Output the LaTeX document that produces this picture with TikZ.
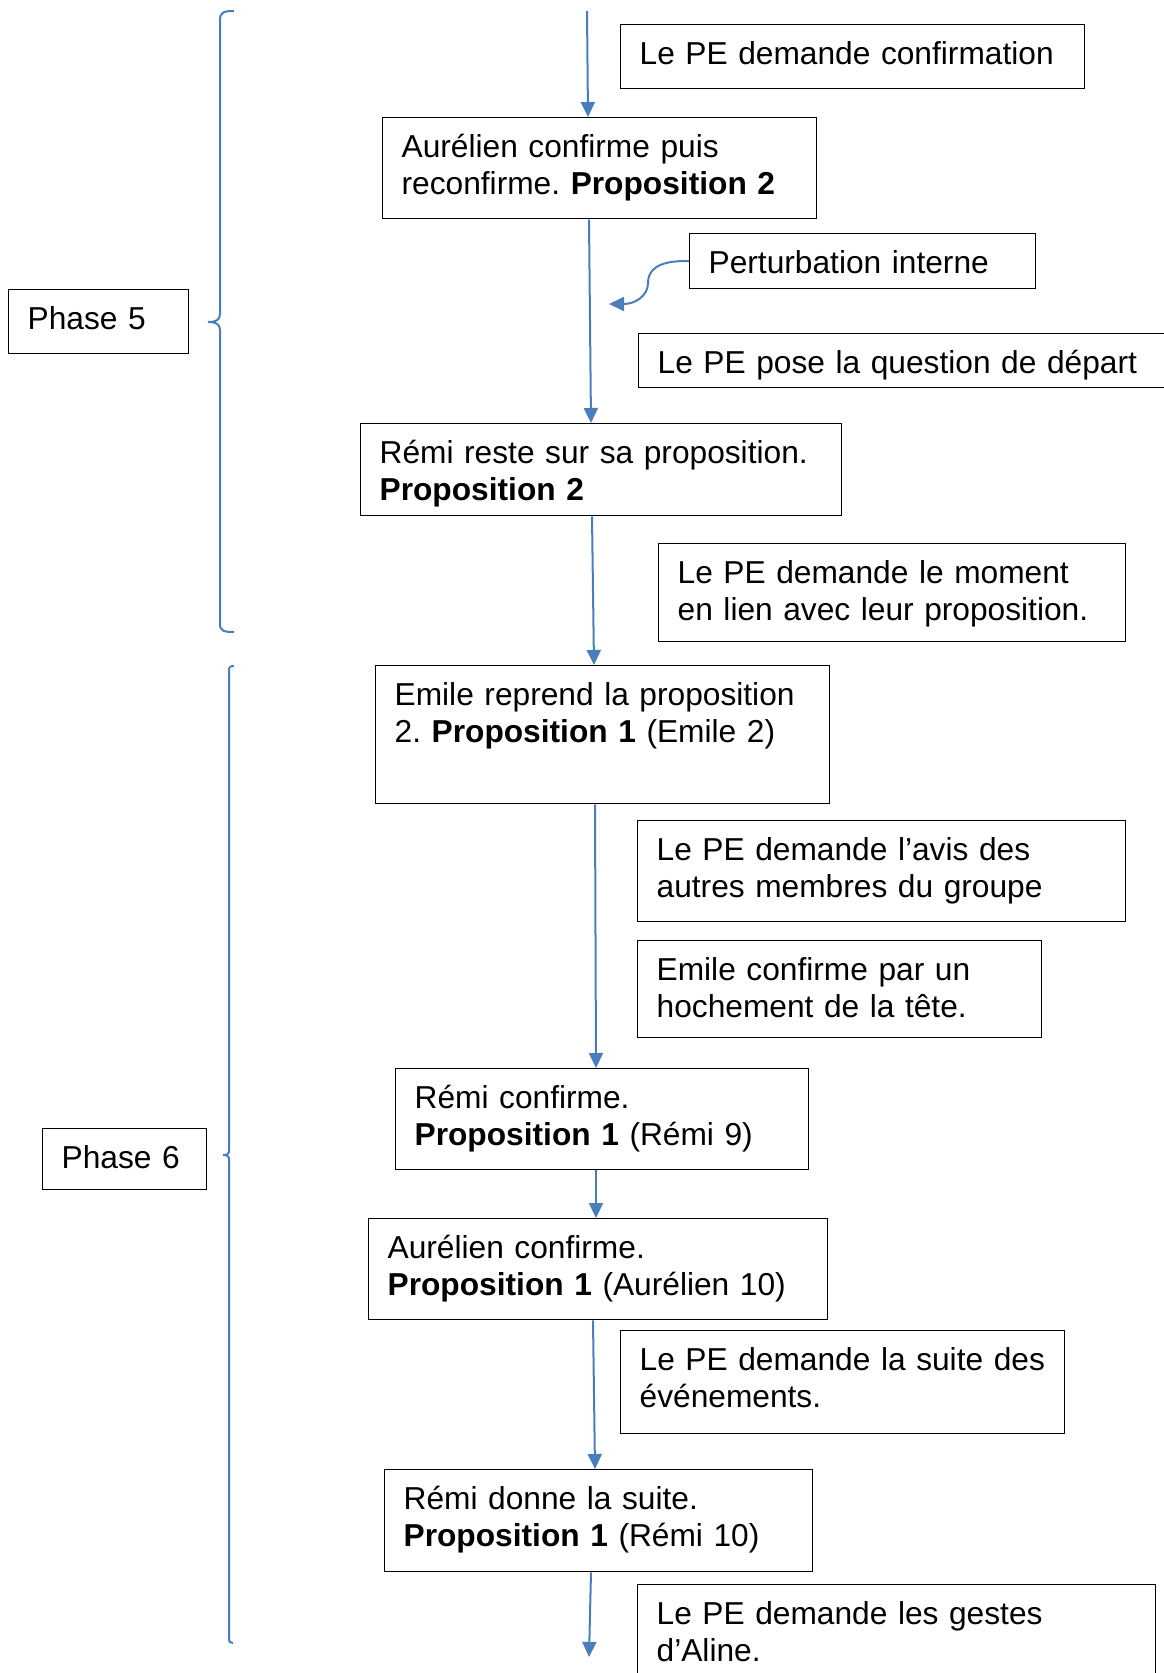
\documentclass[tikz,border=0pt]{standalone}
\usepackage{fontspec}
\setmainfont{Liberation Sans}
\usetikzlibrary{arrows.meta}
\definecolor{bleu}{HTML}{4A7EBB}
\frenchspacing

\tikzset{
  etape/.style={draw=black, line width=1.3pt, anchor=north west, align=left,
    inner xsep=19pt, inner ysep=14pt, text height=26pt,
    font=\fontsize{31.7}{37}\selectfont},
  fleche/.style={draw=bleu, line width=2pt, -{Triangle[length=15pt,width=14pt]}},
  accolade/.style={draw=bleu, line width=2pt}
}

\begin{document}
\begin{tikzpicture}[x=1pt, y=-1pt]
		%%%%% START %%%%%
		\useasboundingbox (0,0) rectangle (1163,1673);
		
		% phases
		\node[etape, text width=142pt, text depth=10pt] (p5) at (8,289) {Phase 5};
		\node[etape, text width=126pt, text depth=7pt] (p6) at (42,1128) {Phase 6};
		
		\draw[accolade] (234,11) .. controls (224,11) and (220,12) .. (220,20) -- (220,314)
			.. controls (220,320) and (216,322) .. (208,322) .. controls (216,322) and (220,324) .. (220,330)
			-- (220,624) .. controls (220,631) and (224,632) .. (234,632);
		\draw[accolade] (234,666) .. controls (230,666) and (229,667) .. (229,671) -- (229,1152)
			.. controls (229,1154) and (227,1155) .. (223,1155) .. controls (227,1155) and (229,1156) .. (229,1158)
			-- (229,1638) .. controls (229,1642) and (230,1643) .. (233,1643);
		
		% colonne centrale
		\node[etape, text width=396pt, text depth=47pt] (b2) at (382,117) {Aurélien confirme puis\\reconfirme. \textbf{Proposition 2}};
		\node[etape, text width=443pt, text depth=38pt] (b5) at (360,423) {Rémi reste sur sa proposition.\\\textbf{Proposition 2}};
		\node[etape, text width=416pt, text depth=84pt] (b7) at (375,665) {Emile reprend la proposition\\2. \textbf{Proposition 1} (Emile 2)};
		\node[etape, text width=375pt, text depth=47pt] (b10) at (395,1068) {Rémi confirme.\\\textbf{Proposition 1} (Rémi 9)};
		\node[etape, text width=421pt, text depth=47pt] (b11) at (368,1218) {Aurélien confirme.\\\textbf{Proposition 1} (Aurélien 10)};
		\node[etape, text width=390pt, text depth=48pt] (b13) at (384,1469) {Rémi donne la suite.\\\textbf{Proposition 1} (Rémi 10)};
		
		% interventions du PE
		\node[etape, text width=426pt, text depth=10pt] (b1) at (620,24) {Le PE demande confirmation};
		\node[etape, text width=308pt, text depth=1pt] (b3) at (689,233) {Perturbation interne};
		\node[etape, text width=522pt, text depth=0pt] (b4) at (638,333) {Le PE pose la question de départ};
		\node[etape, text width=429pt, text depth=44pt] (b6) at (658,543) {Le PE demande le moment\\en lien avec leur proposition.};
		\node[etape, text width=450pt, text depth=47pt] (b8) at (637,820) {Le PE demande l’avis des\\autres membres du groupe};
		\node[etape, text width=366pt, text depth=43pt] (b9) at (637,940) {Emile confirme par un\\hochement de la tête.};
		\node[etape, text width=406pt, text depth=49pt] (b12) at (620,1330) {Le PE demande la suite des\\événements.};
		\node[etape, text width=480pt, text depth=47pt] (b14) at (637,1584) {Le PE demande les gestes\\d’Aline.};
		
		% fleches
		\coordinate (debut) at (587,11);
		\coordinate (fin) at (589,1657);
		\coordinate (pert) at (609,304);
		\draw[fleche] (debut) -- ([xshift=206pt]b2.north west);
		\draw[fleche] ([xshift=207pt]b2.south west) -- ([xshift=231pt]b5.north west);
		\draw[fleche] ([xshift=232pt]b5.south west) -- ([xshift=219pt]b7.north west);
		\draw[fleche] ([xshift=220pt]b7.south west) -- ([xshift=201pt]b10.north west);
		\draw[fleche] ([xshift=201pt]b10.south west) -- ([xshift=228pt]b11.north west);
		\draw[fleche] ([xshift=225pt]b11.south west) -- ([xshift=211pt]b13.north west);
		\draw[fleche] ([xshift=207pt]b13.south west) -- (fin);
		\draw[fleche] (b3.west) .. controls (655,260) and (648,272) .. (648,283)
			.. controls (648,296) and (635,304) .. (pert);
		
		%%%%% END %%%%%
\end{tikzpicture}
\end{document}
